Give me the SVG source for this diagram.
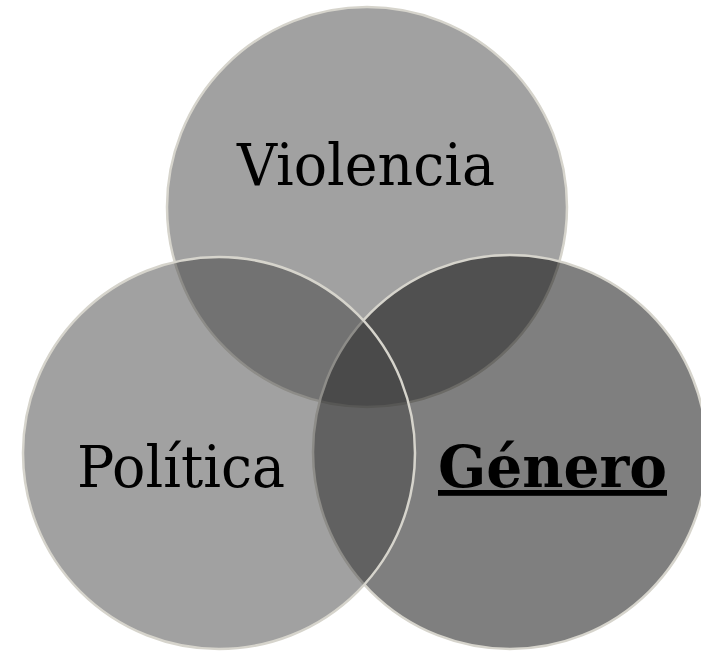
<svg xmlns="http://www.w3.org/2000/svg" width="701" height="652" viewBox="0 0 701 652">
<style>
.c{stroke:#d6d4cc;stroke-width:2.5}
.t{font-family:"DejaVu Serif","Liberation Serif",serif;font-size:58px;fill:#000}
</style>
<rect width="701" height="652" fill="#fff"/>
<g id="violencia">
<circle class="c" cx="367" cy="207" r="200" fill="#434343" fill-opacity="0.5"/>
<text class="t" x="237" y="185" textLength="258" lengthAdjust="spacingAndGlyphs">Violencia</text>
</g>
<g id="genero">
<circle class="c" cx="510" cy="452" r="197" fill="#000" fill-opacity="0.5"/>
<text class="t" x="438" y="487" font-weight="bold" text-decoration="underline" textLength="229" lengthAdjust="spacingAndGlyphs">Género</text>
</g>
<g id="politica">
<circle class="c" cx="219" cy="453" r="196" fill="#434343" fill-opacity="0.5"/>
<text class="t" x="77" y="487" textLength="208" lengthAdjust="spacingAndGlyphs">Política</text>
</g>
</svg>
